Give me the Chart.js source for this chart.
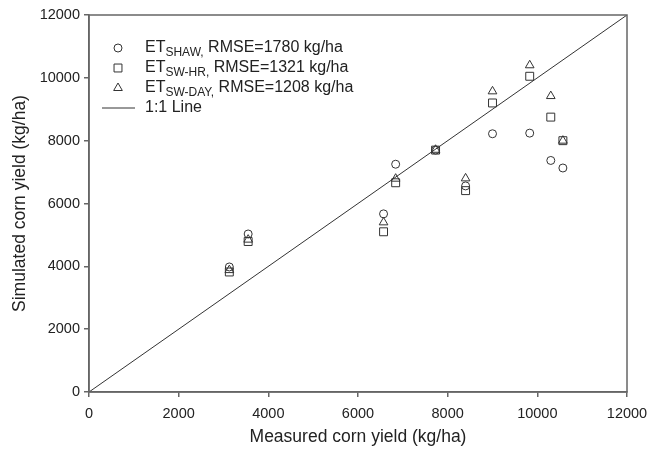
<!DOCTYPE html>
<html lang="en">
<head>
  <meta charset="UTF-8" />
  <title>Measured vs simulated corn yield</title>
  <script src="https://cdn.jsdelivr.net/npm/chart.js"></script>
  <style>
    html, body { margin: 0; padding: 0; background: #fff; }
    #wrap { width: 663px; height: 452px; }
  </style>
</head>
<body>
  <div id="wrap"><canvas id="yieldChart"></canvas></div>

  <script>
    // measured yield per site-year (kg/ha)
    const measured = [3130, 3550, 6570, 6840, 7730, 8400, 9000, 9830, 10300, 10570];
    // simulated yield from each ET method (kg/ha)
    const etShaw  = [3980, 5030, 5670, 7250, 7700, 6560, 8220, 8240, 7370, 7130];
    const etSwHr  = [3820, 4790, 5100, 6660, 7700, 6410, 9200, 10050, 8750, 8000];
    const etSwDay = [3880, 4850, 5400, 6790, 7710, 6800, 9570, 10400, 9420, 8000];
    const oneToOne = [0, 12000];
    const axisTicks = [0, 2000, 4000, 6000, 8000, 10000, 12000];

    const legendRows = [
      { style: 'circle',   radius: 4,   sub: 'SHAW',   rest: ' RMSE=1780 kg/ha' },
      { style: 'rect',     radius: 5.6, sub: 'SW-HR',  rest: ' RMSE=1321 kg/ha' },
      { style: 'triangle', radius: 5,   sub: 'SW-DAY', rest: ' RMSE=1208 kg/ha' },
      { style: 'line',     text: '1:1 Line' }
    ];

    const ink = '#222';
    const FONT = 'Liberation Sans, Arial, Helvetica, sans-serif';

    function pts(ys) { return measured.map((x, i) => ({ x: x, y: ys[i] })); }

    const framePlugin = {
      id: 'frame',
      afterDraw(chart) {
        const { ctx, chartArea: a } = chart;
        ctx.save();
        ctx.strokeStyle = '#666';
        ctx.lineWidth = 1.5;
        ctx.strokeRect(a.left, a.top, a.right - a.left, a.bottom - a.top);
        ctx.restore();
      }
    };

    // legend with subscripted labels, drawn inside the plot box
    const subLegend = {
      id: 'subLegend',
      afterDraw(chart) {
        const ctx = chart.ctx;
        const mx = 118, tx = 145, y0 = 48, dy = 20;
        ctx.save();
        ctx.fillStyle = ink;
        ctx.strokeStyle = '#333';
        ctx.textBaseline = 'middle';
        legendRows.forEach((r, i) => {
          const y = y0 + i * dy;
          if (r.style === 'line') {
            ctx.lineWidth = 1;
            ctx.beginPath();
            ctx.moveTo(102, y);
            ctx.lineTo(135, y);
            ctx.stroke();
            ctx.font = '16px ' + FONT;
            ctx.fillText(r.text, tx, y);
            return;
          }
          ctx.lineWidth = 1;
          ctx.fillStyle = '#fff';
          Chart.helpers.drawPoint(ctx, { pointStyle: r.style, radius: r.radius, rotation: 0, borderWidth: 1 }, mx, y);
          ctx.fillStyle = ink;
          let x = tx;
          ctx.font = '16px ' + FONT;
          ctx.fillText('ET', x, y);
          x += ctx.measureText('ET').width;
          ctx.font = '12px ' + FONT;
          ctx.fillText(r.sub + ',', x, y + 5);
          x += ctx.measureText(r.sub + ',').width;
          ctx.font = '16px ' + FONT;
          ctx.fillText(r.rest, x, y);
        });
        ctx.restore();
      }
    };

    const markerStyle = {
      showLine: false,
      borderColor: '#333',
      backgroundColor: 'rgba(255,255,255,0)',
      borderWidth: 1,
      pointHoverRadius: 5
    };

    const axisBase = {
      type: 'linear',
      min: 0,
      max: 12000,
      afterBuildTicks: s => { s.ticks = axisTicks.map(v => ({ value: v })); },
      border: { display: true, color: '#666', width: 1.5 },
      grid: { drawOnChartArea: false, drawTicks: true, tickLength: 5, color: '#666', lineWidth: 1.5 },
    };

    const plain = v => String(v);

    new Chart(document.getElementById('yieldChart'), {
      type: 'scatter',
      data: {
        datasets: [
          { ...markerStyle, label: 'ET SHAW', data: pts(etShaw), pointStyle: 'circle', pointRadius: 4 },
          { ...markerStyle, label: 'ET SW-HR', data: pts(etSwHr), pointStyle: 'rect', pointRadius: 5.6 },
          { ...markerStyle, label: 'ET SW-DAY', data: pts(etSwDay), pointStyle: 'triangle', pointRadius: 5 },
          {
            label: '1:1 Line',
            type: 'line',
            data: oneToOne.map(v => ({ x: v, y: v })),
            borderColor: '#333',
            borderWidth: 1,
            pointRadius: 0,
            fill: false
          }
        ]
      },
      options: {
        responsive: true,
        maintainAspectRatio: false,
        animation: false,
        layout: { padding: { top: 15, right: 36, left: 0, bottom: 0 } },
        plugins: { legend: { display: false }, tooltip: { enabled: false } },
        scales: {
          x: {
            ...axisBase,
            afterFit: s => { s.height = 60; },
            ticks: { color: ink, font: { family: FONT, size: 14.5 }, padding: 8, maxRotation: 0, callback: plain },
            title: { display: true, text: 'Measured corn yield (kg/ha)', color: ink, font: { family: FONT, size: 17.5 }, padding: { top: 2 } }
          },
          y: {
            ...axisBase,
            afterFit: s => { s.width = 89; },
            ticks: { color: ink, font: { family: FONT, size: 14.5 }, padding: 4, callback: plain },
            title: { display: true, text: 'Simulated corn yield (kg/ha)', color: ink, font: { family: FONT, size: 17.5 }, padding: { top: 10, bottom: 0 } }
          }
        }
      },
      plugins: [framePlugin, subLegend]
    });
  </script>
</body>
</html>
